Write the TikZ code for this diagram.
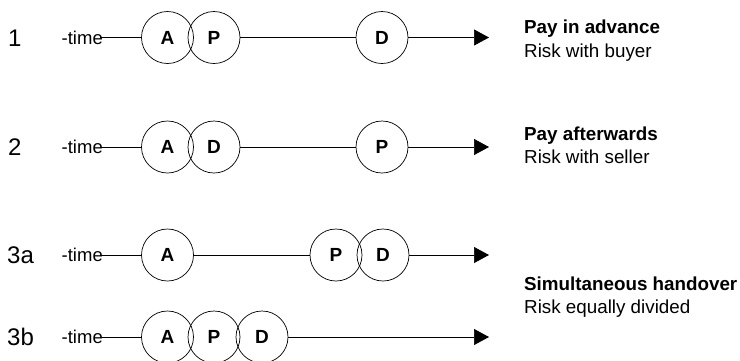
\documentclass[tikz,border=0pt]{standalone}
\usepackage{fontspec}
\setmainfont{Liberation Sans}
\usetikzlibrary{arrows.meta}
\begin{document}
\begin{tikzpicture}[x=1pt,y=-1pt,
  evt/.style={circle,draw=black,line width=0.7pt,minimum size=52pt,inner sep=0pt,
    font=\fontsize{19}{22}\selectfont\bfseries},
  tl/.style={anchor=east,inner sep=0pt,font=\fontsize{18.5}{22}\selectfont},
  num/.style={anchor=base west,inner sep=0pt,font=\fontsize{24}{28}\selectfont},
  hd/.style={anchor=base west,inner sep=0pt,font=\fontsize{18.8}{22}\selectfont\bfseries},
  sub/.style={anchor=base west,inner sep=0pt,font=\fontsize{18.8}{22}\selectfont},
  ln/.style={line width=0.7pt,draw=black},
  arr/.style={ln,-{Triangle[length=15pt,width=16pt]}}]
\useasboundingbox (0,0) rectangle (740,360);
% row 1
\node[num] (n1) at (8,46) {1};
\node[tl] (t1) at (103,37.5) {-time};
\node[evt] (a1) at (167.5,37.5) {A};
\node[evt] (p1) at (214,37.5) {P};
\node[evt] (d1) at (382,37.5) {D};
\coordinate (e1) at (489,37.5);
\draw[ln] ([xshift=-3pt]t1.east) -- (a1);
\draw[ln] (p1) -- (d1);
\draw[arr] (d1) -- (e1);
\node[hd] (h1) at (524,33) {Pay in advance};
\node[sub] (s1) at (524,57) {Risk with buyer};
% row 2
\node[num] (n2) at (8,155.5) {2};
\node[tl] (t2) at (103,147) {-time};
\node[evt] (a2) at (167.5,147) {A};
\node[evt] (d2) at (214,147) {D};
\node[evt] (p2) at (382,147) {P};
\coordinate (e2) at (489,147);
\draw[ln] ([xshift=-3pt]t2.east) -- (a2);
\draw[ln] (d2) -- (p2);
\draw[arr] (p2) -- (e2);
\node[hd] (h2) at (524,140) {Pay afterwards};
\node[sub] (s2) at (524,163) {Risk with seller};
% row 3a
\node[num] (n3) at (7,263.5) {3a};
\node[tl] (t3) at (103,255) {-time};
\node[evt] (a3) at (167.5,255) {A};
\node[evt] (p3) at (336,255) {P};
\node[evt] (d3) at (383,255) {D};
\coordinate (e3) at (489,255);
\draw[ln] ([xshift=-3pt]t3.east) -- (a3);
\draw[ln] (a3) -- (p3);
\draw[arr] (d3) -- (e3);
% row 3b
\node[num] (n4) at (7,345.5) {3b};
\node[tl] (t4) at (103,337) {-time};
\node[evt] (a4) at (167.5,337) {A};
\node[evt] (p4) at (214,337) {P};
\node[evt] (d4) at (262,337) {D};
\coordinate (e4) at (489,337);
\draw[ln] ([xshift=-3pt]t4.east) -- (a4);
\draw[arr] (d4) -- (e4);
\node[hd] (h3) at (524,290) {Simultaneous handover};
\node[sub] (s3) at (524,313) {Risk equally divided};
\end{tikzpicture}
\end{document}
